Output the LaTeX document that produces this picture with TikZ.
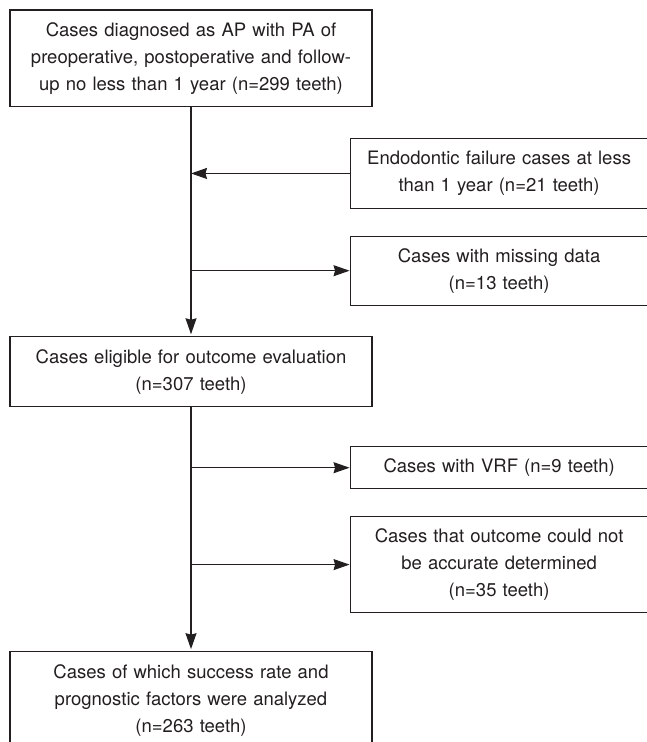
\documentclass[tikz,border=0pt]{standalone}
\usepackage{fontspec}
\setmainfont{TeX Gyre Heros}
\usetikzlibrary{arrows.meta, positioning}
\definecolor{ink}{HTML}{231F20}

\begin{document}
\begin{tikzpicture}[
  x=1pt, y=1pt,
  node distance=27pt,
  box/.style={draw=ink, text=ink, line width=1.1pt, align=center, inner sep=0pt,
              font=\fontsize{18.5}{27}\selectfont},
  mainbox/.style={box, minimum width=362pt, text width=350pt},
  sidebox/.style={box, minimum width=298pt, text width=290pt},
  flow/.style={-{Stealth[length=16pt, width=11pt, inset=1.5pt]}, draw=ink, line width=1.1pt}
]
\useasboundingbox (0,0) rectangle (646,-742);

\node[mainbox, minimum height=96.7pt] (start) at (191,-58.35)
  {Cases diagnosed as AP with PA of\\preoperative, postoperative and follow-\\up no less than 1 year (n=299 teeth)};
\node[sidebox, minimum height=69.3pt, below right=31pt and -23pt of start.south east] (early)
  {Endodontic failure cases at less\\than 1 year (n=21 teeth)};
\node[sidebox, minimum height=69pt, below=27pt of early] (missing)
  {Cases with missing data\\(n=13 teeth)};
\node[mainbox, minimum height=70pt, below=229pt of start] (eligible)
  {Cases eligible for outcome evaluation\\(n=307 teeth)};
\node[sidebox, minimum height=42.4pt, below right=38.6pt and -23pt of eligible.south east] (vrf)
  {Cases with VRF (n=9 teeth)};
\node[sidebox, minimum height=96pt, below=26.6pt of vrf] (unclear)
  {Cases that outcome could not\\be accurate determined\\(n=35 teeth)};
\node[mainbox, minimum height=97pt, below=243.8pt of eligible] (analyzed)
  {Cases of which success rate and\\prognostic factors were analyzed\\(n=263 teeth)};

\coordinate (j1) at (start.south |- early.west);
\coordinate (j2) at (start.south |- missing.west);
\coordinate (j3) at (eligible.south |- vrf.west);
\coordinate (j4) at (eligible.south |- unclear.west);

\draw[flow, shorten >=2pt] (start) -- (eligible);
\draw[flow] (early) -- (j1);
\draw[flow] (j2) -- (missing);
\draw[flow, shorten >=2pt] (eligible) -- (analyzed);
\draw[flow] (j3) -- (vrf);
\draw[flow] (j4) -- (unclear);
\end{tikzpicture}
\end{document}
